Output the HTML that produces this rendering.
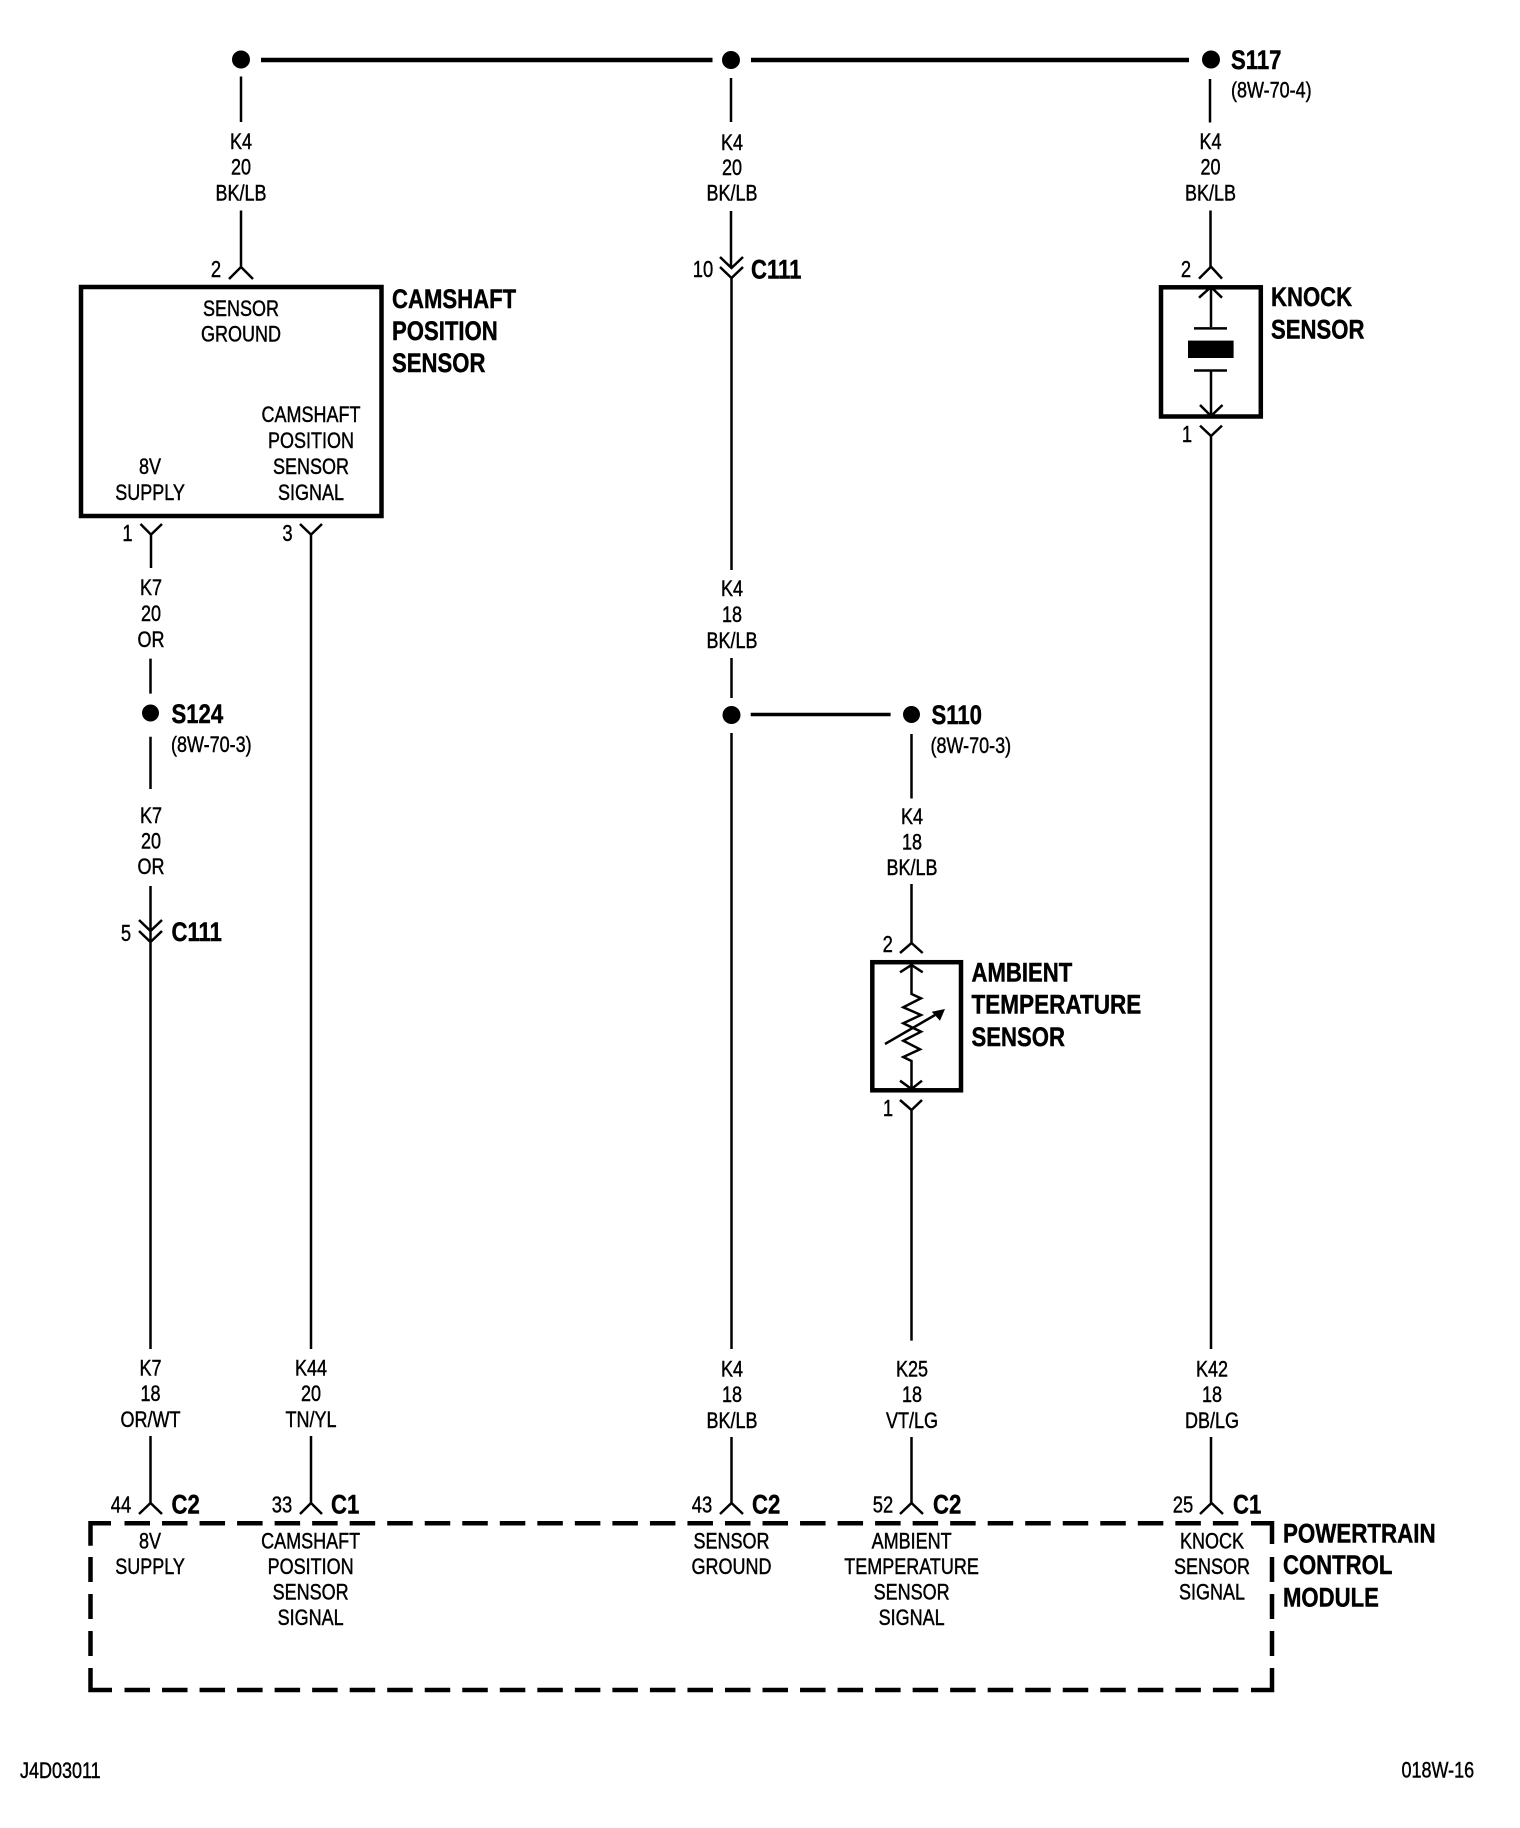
<!DOCTYPE html>
<html><head><meta charset="utf-8"><title>Wiring diagram</title>
<style>
html,body{margin:0;padding:0;background:#fff}
svg{display:block}
text{font-family:"Liberation Sans",sans-serif;fill:#000;transform-box:fill-box}
.r{font-size:22.5px;text-anchor:middle;transform-origin:50% 50%;transform:scaleX(.8);stroke:#000;stroke-width:.45px}
.l{font-size:22.5px;text-anchor:start;transform-origin:0 50%;transform:scaleX(.8);stroke:#000;stroke-width:.45px}
.b{font-size:27px;font-weight:bold;text-anchor:start;transform-origin:0 50%;transform:scaleX(.82);stroke:#000;stroke-width:.45px}
.p{font-size:23px;text-anchor:middle;transform-origin:50% 50%;transform:scaleX(.8);stroke:#000;stroke-width:.4px}
.w{fill:none;stroke:#000;stroke-width:2.5}
.t{fill:none;stroke:#000;stroke-width:4.5}
</style></head>
<body>
<svg width="1520" height="1828" viewBox="0 0 1520 1828" xmlns="http://www.w3.org/2000/svg">
<rect width="1520" height="1828" fill="#fff"/>

<!-- top bus -->
<circle cx="241" cy="59.5" r="9"/><circle cx="731" cy="60" r="9"/><circle cx="1211" cy="59.5" r="9"/>
<path class="t" d="M261 60H712.5M751 60H1189"/>

<!-- wires -->
<path class="w" d="M241 76.5V122M241 210.5V267M229 279L241 267L253 279"/>
<path class="w" d="M731 78V122M731 211V268M720 257L731.500 268L743 257M720 267L731.500 278L743 267M731.500 278V570M731.500 658V698M731.500 733V1349M731.500 1437V1503M720 1514L731.500 1503L743 1514"/>
<path class="w" d="M1210 79V122.500M1210.500 210.500V267M1199 278.600L1211 266.700L1222 278.600M1199 297.700L1211 287L1222 297.700M1211 287V327M1194 328.400H1227M1194 370.500H1227M1211 370.500V416M1200 405L1211 416L1222.500 405M1200 425.600L1211 436L1222 425.600M1211 436V1349M1211 1437V1503M1200 1514L1211.500 1503L1223 1514"/>
<rect x="1188" y="340.600" width="45.600" height="17.400"/>

<path class="w" d="M140.500 524L151 534.600L162 524M151 534.600V568M150.500 658.600V693.600M150.500 736.700V789M150.500 886V942M139 920L150.500 931L162 920M139 931L150.500 942L162 931M150.500 942V1349M150.500 1436V1503M139 1514L150.500 1503L162 1514"/>
<path class="w" d="M300 524L311 534.600L322 524M311 534.600V1349M311 1436V1503M300 1514L311 1503L322 1514"/>

<!-- S124 -->
<circle cx="150.500" cy="713" r="8.500"/>
<!-- S110 -->
<circle cx="731.500" cy="715" r="9"/><circle cx="911.500" cy="714.500" r="8.500"/>
<path d="M750.700 714.500H890.600" fill="none" stroke="#000" stroke-width="3.600"/>
<path class="w" d="M911.500 734V798.500M911.500 884V943M900 953L911.500 943L922.700 953M900 972.300L911.500 965L922.700 972.300M911.500 963V994L921 998.300L903.300 1007.300L921 1015L903.300 1023.300L921 1031.700L903.300 1040.700L920 1049.300L903.300 1057L911.500 1061V1089M900 1080.700L911.500 1089L922 1080.700M900 1100L911.500 1110L922 1100M911.500 1110V1340.600M911.500 1437V1503M900 1514L911.500 1503L923 1514"/>
<path class="w" d="M885 1044L935 1015"/>
<polygon points="945,1009 931.700,1011.700 940,1020.700"/>

<!-- boxes -->
<rect class="t" x="81" y="287" width="300.500" height="229"/>
<rect class="t" x="1161" y="287.300" width="99.800" height="129.200"/>
<rect class="t" x="872.300" y="962.200" width="88.700" height="128.100"/>

<!-- dashed PCM -->
<path class="t" d="M90.500 1545.700V1523.300H111M1251 1523.300H1272V1544M90.500 1668V1690H112M1251 1690H1272V1668"/>
<path class="t" stroke-dasharray="25.500 12.030" d="M124.500 1523.300H1240M124.500 1690H1240"/>
<path class="t" stroke-dasharray="25 12" d="M90.500 1557V1656M1272 1557V1656"/>

<!-- wire labels -->
<text class="r" x="241" y="149">K4</text><text class="r" x="241" y="174.500">20</text><text class="r" x="241" y="200.500">BK/LB</text>
<text class="r" x="732" y="150">K4</text><text class="r" x="732" y="175">20</text><text class="r" x="732" y="200.500">BK/LB</text>
<text class="r" x="1210.500" y="149">K4</text><text class="r" x="1210.500" y="174.500">20</text><text class="r" x="1210.500" y="200.500">BK/LB</text>
<text class="r" x="151" y="595">K7</text><text class="r" x="151" y="621">20</text><text class="r" x="151" y="647">OR</text>
<text class="r" x="151" y="823">K7</text><text class="r" x="151" y="848.500">20</text><text class="r" x="151" y="874">OR</text>
<text class="r" x="732" y="596">K4</text><text class="r" x="732" y="622">18</text><text class="r" x="732" y="648">BK/LB</text>
<text class="r" x="912" y="824">K4</text><text class="r" x="912" y="849.500">18</text><text class="r" x="912" y="875">BK/LB</text>
<text class="r" x="150.500" y="1375.500">K7</text><text class="r" x="150.500" y="1401">18</text><text class="r" x="150.500" y="1427">OR/WT</text>
<text class="r" x="311" y="1375.500">K44</text><text class="r" x="311" y="1401">20</text><text class="r" x="311" y="1427">TN/YL</text>
<text class="r" x="732" y="1376.500">K4</text><text class="r" x="732" y="1402">18</text><text class="r" x="732" y="1428">BK/LB</text>
<text class="r" x="912" y="1376.500">K25</text><text class="r" x="912" y="1402">18</text><text class="r" x="912" y="1428">VT/LG</text>
<text class="r" x="1212" y="1376.500">K42</text><text class="r" x="1212" y="1402">18</text><text class="r" x="1212" y="1428">DB/LG</text>

<!-- camshaft box labels -->
<text class="r" x="241" y="316">SENSOR</text><text class="r" x="241" y="341.500">GROUND</text>
<text class="r" x="311" y="422">CAMSHAFT</text><text class="r" x="311" y="448">POSITION</text><text class="r" x="311" y="474">SENSOR</text><text class="r" x="311" y="500">SIGNAL</text>
<text class="r" x="150" y="474">8V</text><text class="r" x="150" y="500">SUPPLY</text>

<!-- headings -->
<text class="b" x="392" y="308">CAMSHAFT</text><text class="b" x="392" y="340">POSITION</text><text class="b" x="392" y="372">SENSOR</text>
<text class="b" x="1271" y="306">KNOCK</text><text class="b" x="1271" y="338.700">SENSOR</text>
<text class="b" x="971.500" y="981.700">AMBIENT</text><text class="b" x="971.500" y="1013.300" style="transform:scaleX(.835)">TEMPERATURE</text><text class="b" x="971.500" y="1046">SENSOR</text>
<text class="b" x="1283" y="1542.700" style="transform:scaleX(.828)">POWERTRAIN</text><text class="b" x="1283" y="1574">CONTROL</text><text class="b" x="1283" y="1606.700">MODULE</text>

<!-- splices and connectors -->
<text class="b" x="1231" y="69">S117</text><text class="l" x="1231" y="97.500">(8W-70-4)</text>
<text class="b" x="171.500" y="723">S124</text><text class="l" x="171" y="752">(8W-70-3)</text>
<text class="b" x="931.500" y="724">S110</text><text class="l" x="930.500" y="753">(8W-70-3)</text>
<text class="b" x="751" y="278.500">C111</text><text class="b" x="171.500" y="941">C111</text>
<text class="b" x="171.500" y="1513.500">C2</text><text class="b" x="331" y="1513.500">C1</text><text class="b" x="752" y="1513.500">C2</text><text class="b" x="933" y="1513.500">C2</text><text class="b" x="1233" y="1513.500">C1</text>

<!-- pins -->
<text class="p" x="216" y="277">2</text><text class="p" x="703" y="277">10</text><text class="p" x="1186" y="277">2</text>
<text class="p" x="1187" y="442">1</text><text class="p" x="127.500" y="541">1</text><text class="p" x="287.500" y="541">3</text>
<text class="p" x="126" y="941">5</text><text class="p" x="887.700" y="952">2</text><text class="p" x="888" y="1116">1</text>
<text class="p" x="121" y="1512.500">44</text><text class="p" x="282" y="1512.500">33</text><text class="p" x="702" y="1512.500">43</text><text class="p" x="883" y="1512.500">52</text><text class="p" x="1183" y="1512.500">25</text>

<!-- PCM labels -->
<text class="r" x="150" y="1548.500">8V</text><text class="r" x="150" y="1574">SUPPLY</text>
<text class="r" x="310.600" y="1548.500">CAMSHAFT</text><text class="r" x="310.600" y="1574">POSITION</text><text class="r" x="310.600" y="1599.500">SENSOR</text><text class="r" x="310.600" y="1625">SIGNAL</text>
<text class="r" x="731.500" y="1548.500">SENSOR</text><text class="r" x="731.500" y="1574">GROUND</text>
<text class="r" x="911.600" y="1548.500">AMBIENT</text><text class="r" x="911.600" y="1574">TEMPERATURE</text><text class="r" x="911.600" y="1599.500">SENSOR</text><text class="r" x="911.600" y="1625">SIGNAL</text>
<text class="r" x="1212" y="1548.500">KNOCK</text><text class="r" x="1212" y="1574">SENSOR</text><text class="r" x="1212" y="1599.500">SIGNAL</text>

<!-- footer -->
<text class="l" x="20" y="1778">J4D03011</text>
<text class="l" x="1401.500" y="1777.700">018W-16</text>
</svg>
</body></html>
